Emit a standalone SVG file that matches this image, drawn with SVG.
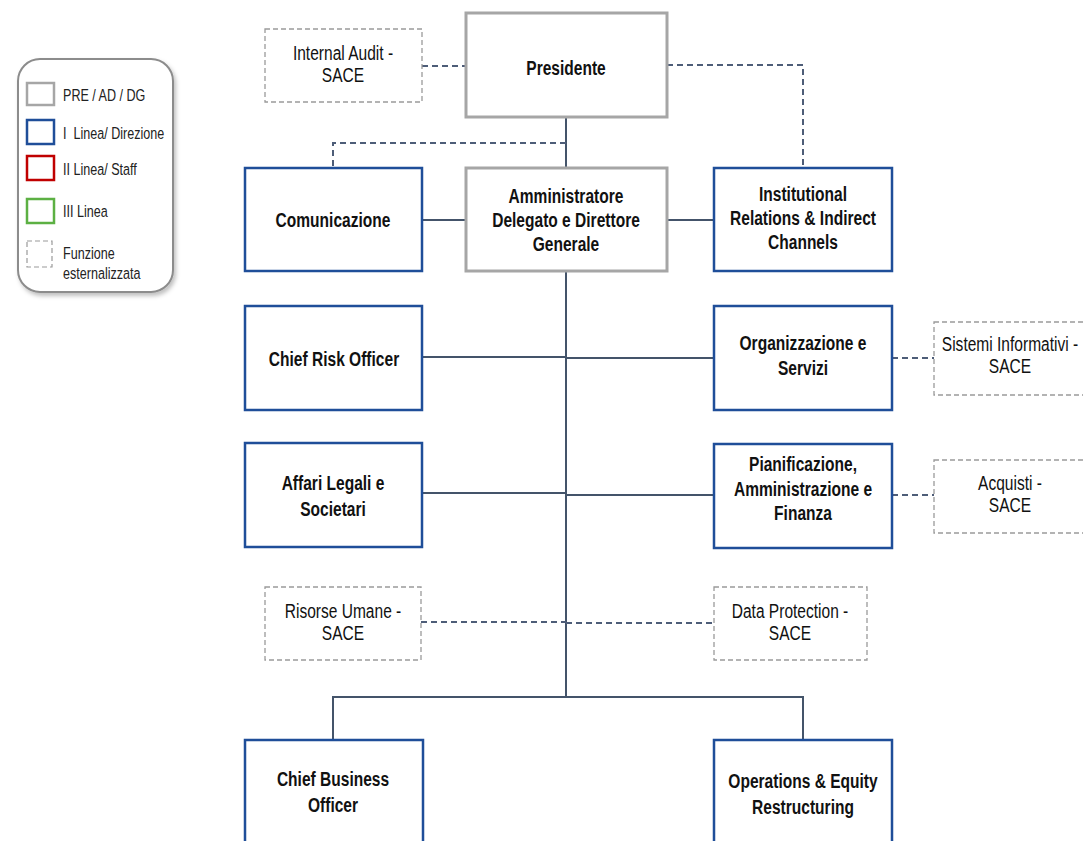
<svg xmlns="http://www.w3.org/2000/svg" width="1083" height="841" viewBox="0 0 1083 841">
<defs>
<style>
.b{font-family:"Liberation Sans",Arial,sans-serif;font-weight:bold;font-size:21px;fill:#111;text-anchor:middle}
.r{font-family:"Liberation Sans",Arial,sans-serif;font-size:21px;fill:#111;text-anchor:middle}
.lg{font-family:"Liberation Sans",Arial,sans-serif;font-size:17px;fill:#222}
.blue{fill:#fff;stroke:#1f4e99;stroke-width:2.5}
.gray{fill:#fff;stroke:#a6a6a6;stroke-width:3}
.ext{fill:#fff;stroke:#9a9a9a;stroke-width:1.3;stroke-dasharray:5 3}
.ln{fill:none;stroke:#44546a;stroke-width:2}
.dl{fill:none;stroke:#4e5d78;stroke-width:2;stroke-dasharray:6 4}
</style>
<filter id="sh" x="-20%" y="-20%" width="140%" height="140%">
<feDropShadow dx="2" dy="3" stdDeviation="2" flood-color="#000" flood-opacity="0.25"/>
</filter>
</defs>
<rect width="1083" height="841" fill="#fff"/>

<g id="legend">
<rect x="18" y="59" width="155" height="233" rx="22" fill="#fff" stroke="#8c8c8c" stroke-width="2" filter="url(#sh)"/>
<rect x="27" y="83" width="27" height="22" fill="#fff" stroke="#a6a6a6" stroke-width="2.5"/>
<rect x="27" y="120" width="27" height="24" fill="#fff" stroke="#1f4e99" stroke-width="2.5"/>
<rect x="27" y="156" width="27" height="24" fill="#fff" stroke="#c00000" stroke-width="2.5"/>
<rect x="27" y="199" width="27" height="24" fill="#fff" stroke="#5cb043" stroke-width="2.5"/>
<rect x="27" y="241" width="25" height="26" fill="#fff" stroke="#9a9a9a" stroke-width="1.2" stroke-dasharray="5 3"/>
<text class="lg" transform="translate(63 101) scale(0.74 1)">PRE / AD / DG</text>
<text class="lg" transform="translate(63 139) scale(0.74 1)">I&#160; Linea/ Direzione</text>
<text class="lg" transform="translate(63 175) scale(0.74 1)">II Linea/ Staff</text>
<text class="lg" transform="translate(63 217) scale(0.74 1)">III Linea</text>
<text class="lg" transform="translate(63 0) scale(0.74 1)"><tspan x="0" y="259">Funzione</tspan><tspan x="0" y="279">esternalizzata</tspan></text>
</g>

<g id="connectors">
<line class="ln" x1="566" y1="117" x2="566" y2="168"/>
<polyline class="dl" points="566,143 333,143 333,168"/>
<line class="dl" x1="422" y1="66" x2="466" y2="66"/>
<polyline class="dl" points="667,65 803,65 803,168"/>
<line class="ln" x1="423" y1="220" x2="466" y2="220"/>
<line class="ln" x1="667" y1="220" x2="714" y2="220"/>
<line class="ln" x1="566" y1="271" x2="566" y2="697"/>
<line class="ln" x1="423" y1="357" x2="566" y2="357"/>
<line class="ln" x1="566" y1="358" x2="714" y2="358"/>
<line class="ln" x1="423" y1="493" x2="566" y2="493"/>
<line class="ln" x1="566" y1="495" x2="714" y2="495"/>
<line class="dl" x1="892" y1="358" x2="934" y2="358"/>
<line class="dl" x1="892" y1="495" x2="934" y2="495"/>
<line class="dl" x1="421" y1="622" x2="566" y2="622"/>
<line class="dl" x1="566" y1="623" x2="714" y2="623"/>
<polyline class="ln" points="333,740 333,697 803,697 803,740"/>
</g>

<g id="presidente">
<rect class="gray" x="466" y="13" width="201" height="104"/>
<text class="b" transform="translate(566 75) scale(0.74 1)">Presidente</text>
</g>
<g id="internal-audit">
<rect class="ext" x="265" y="29" width="157" height="73"/>
<text class="r" transform="translate(343 0) scale(0.74 1)"><tspan x="0" y="60">Internal Audit -</tspan><tspan x="0" y="82">SACE</tspan></text>
</g>
<g id="ad">
<rect class="gray" x="466" y="168" width="201" height="103"/>
<text class="b" transform="translate(566 0) scale(0.74 1)"><tspan x="0" y="203">Amministratore</tspan><tspan x="0" y="227">Delegato e Direttore</tspan><tspan x="0" y="251">Generale</tspan></text>
</g>
<g id="comunicazione">
<rect class="blue" x="245" y="168" width="177" height="103"/>
<text class="b" transform="translate(333 227) scale(0.74 1)">Comunicazione</text>
</g>
<g id="institutional">
<rect class="blue" x="714" y="168" width="178" height="103"/>
<text class="b" transform="translate(803 0) scale(0.74 1)"><tspan x="0" y="201">Institutional</tspan><tspan x="0" y="225">Relations &amp; Indirect</tspan><tspan x="0" y="249">Channels</tspan></text>
</g>
<g id="cro">
<rect class="blue" x="245" y="306" width="177" height="104"/>
<text class="b" transform="translate(334 366) scale(0.74 1)">Chief Risk Officer</text>
</g>
<g id="organizzazione">
<rect class="blue" x="714" y="306" width="178" height="104"/>
<text class="b" transform="translate(803 0) scale(0.74 1)"><tspan x="0" y="350">Organizzazione e</tspan><tspan x="0" y="375">Servizi</tspan></text>
</g>
<g id="sistemi">
<rect class="ext" x="934" y="322" width="152" height="73"/>
<text class="r" transform="translate(1010 0) scale(0.74 1)"><tspan x="0" y="351">Sistemi Informativi -</tspan><tspan x="0" y="373">SACE</tspan></text>
</g>
<g id="affari">
<rect class="blue" x="245" y="443" width="177" height="104"/>
<text class="b" transform="translate(333 0) scale(0.74 1)"><tspan x="0" y="490">Affari Legali e</tspan><tspan x="0" y="516">Societari</tspan></text>
</g>
<g id="pianificazione">
<rect class="blue" x="714" y="444" width="178" height="104"/>
<text class="b" transform="translate(803 0) scale(0.74 1)"><tspan x="0" y="471">Pianificazione,</tspan><tspan x="0" y="496">Amministrazione e</tspan><tspan x="0" y="520">Finanza</tspan></text>
</g>
<g id="acquisti">
<rect class="ext" x="934" y="460" width="152" height="73"/>
<text class="r" transform="translate(1010 0) scale(0.74 1)"><tspan x="0" y="490">Acquisti -</tspan><tspan x="0" y="512">SACE</tspan></text>
</g>
<g id="risorse">
<rect class="ext" x="265" y="587" width="156" height="73"/>
<text class="r" transform="translate(343 0) scale(0.74 1)"><tspan x="0" y="618">Risorse Umane -</tspan><tspan x="0" y="640">SACE</tspan></text>
</g>
<g id="data-protection">
<rect class="ext" x="714" y="587" width="153" height="73"/>
<text class="r" transform="translate(790 0) scale(0.74 1)"><tspan x="0" y="618">Data Protection -</tspan><tspan x="0" y="640">SACE</tspan></text>
</g>
<g id="cbo">
<rect class="blue" x="245" y="740" width="178" height="120"/>
<text class="b" transform="translate(333 0) scale(0.74 1)"><tspan x="0" y="786">Chief Business</tspan><tspan x="0" y="812">Officer</tspan></text>
</g>
<g id="operations">
<rect class="blue" x="714" y="740" width="178" height="120"/>
<text class="b" transform="translate(803 0) scale(0.74 1)"><tspan x="0" y="788">Operations &amp; Equity</tspan><tspan x="0" y="814">Restructuring</tspan></text>
</g>
</svg>
